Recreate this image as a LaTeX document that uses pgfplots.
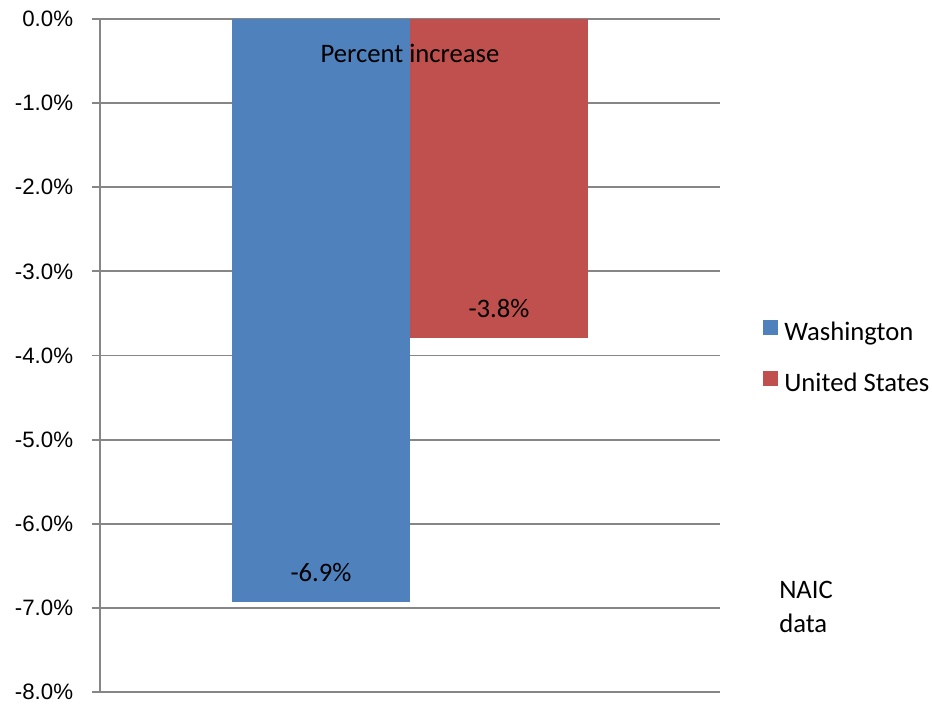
\documentclass[border=0pt]{standalone}
\usepackage{fontspec}
\setmainfont{Carlito}
\newfontfamily\arial{Liberation Sans}
\usepackage{pgfplots}
\pgfplotsset{compat=1.18}
\definecolor{wablue}{HTML}{4F81BD}
\definecolor{usred}{HTML}{C0504D}
\definecolor{gridgray}{HTML}{868686}
\begin{document}
\begin{tikzpicture}
\path[use as bounding box] (-75pt,-9pt) rectangle (624pt,519pt);
\begin{axis}[
    at={(0,0)}, anchor=south west,
    scale only axis, width=465pt, height=504.75pt,
    xmin=-1, xmax=1, ymin=-8, ymax=0,
    clip=false,
    axis x line=none, axis y line*=left,
    axis line style={gridgray, line width=1.4pt, -},
    ytick={-8,-7,...,0},
    tick align=outside,
    major tick length=6pt,
    tick style={gridgray, line width=1.4pt},
    ymajorgrids,
    grid style={gridgray, line width=1.4pt},
    /pgf/number format/assume math mode=true,
    yticklabel={\arial\fontsize{16.7}{20}\selectfont\pgfmathprintnumber[fixed,fixed zerofill,precision=1]{\tick}\%},
    yticklabel style={anchor=east, inner sep=0pt, xshift=-14pt},
    ybar, bar width=0.5742,
    nodes near coords={\pgfmathprintnumber[fixed,fixed zerofill,precision=1]{\pgfplotspointmeta}\%},
    every node near coord/.append style={font=\fontsize{20}{24}\selectfont, text=black, anchor=base, yshift=15pt},
    legend style={draw=none, fill=none, at={(1.0694,0.5523)}, anchor=north west,
        inner sep=0pt, outer sep=0pt, row sep=17.75pt, column sep=5pt,
        font=\fontsize{20}{24}\selectfont,
        nodes={inner sep=0pt, text height=14pt, text depth=5pt}},
    legend cell align=left,
    legend image code/.code={\fill[#1] (0pt,0pt) rectangle (11pt,11pt);},
]
% percent change, Washington vs United States
\addplot[fill=wablue, draw=none, bar shift=-0.2871] coordinates {(0,-6.93)};
\addlegendentry{Washington}
\addplot[fill=usred, draw=none, bar shift=0.2871] coordinates {(0,-3.79)};
\addlegendentry{United States}
\node[anchor=base, inner sep=0pt, font=\fontsize{20}{24}\selectfont] at (axis cs:0,-0.523) {Percent increase};
\node[anchor=base west, inner sep=0pt, font=\fontsize{20}{24}\selectfont] at (axis cs:1.1903,-6.894) {NAIC};
\node[anchor=base west, inner sep=0pt, font=\fontsize{20}{24}\selectfont] at (axis cs:1.1903,-7.298) {data};
\end{axis}
\end{tikzpicture}
\end{document}
